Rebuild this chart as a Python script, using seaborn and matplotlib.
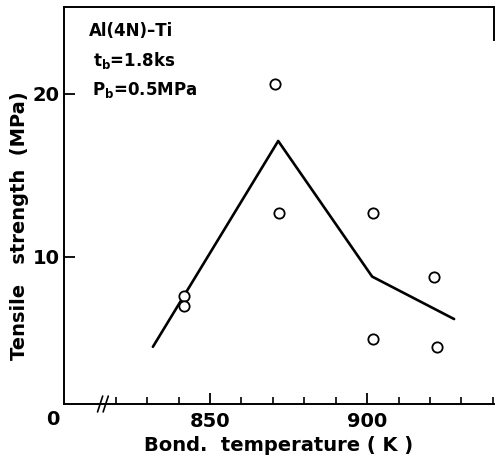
import matplotlib
matplotlib.use("Agg")
import matplotlib.pyplot as plt
import seaborn as sns
import pandas as pd
from matplotlib.ticker import FixedLocator

# data
pt_temp = [841.7, 841.7, 870.7, 872.0, 901.9, 901.9, 921.3, 922.3]
pt_strength = [7.6, 7.0, 20.6, 12.7, 12.7, 5.0, 8.8, 4.5]
line_temp = [831.8, 871.7, 901.6, 927.7]
line_strength = [4.5, 17.1, 8.8, 6.2]
x_ticks = [850, 900]
y_ticks = [10, 20]

sns.set_style("white")
plt.rcParams['font.family'] = ['DejaVu Sans']
plt.rcParams['text.color'] = 'black'
plt.rcParams['axes.labelcolor'] = 'black'
plt.rcParams['xtick.color'] = 'black'
plt.rcParams['ytick.color'] = 'black'

fig = plt.figure(figsize=(4.96, 4.65), dpi=100)
ax = fig.add_axes([64/496, 61/465, 430/496, 397/465])

pts = pd.DataFrame({"T": pt_temp, "S": pt_strength})
ln = pd.DataFrame({"T": line_temp, "S": line_strength})

sns.lineplot(data=ln, x="T", y="S", ax=ax, color="black", linewidth=1.9, sort=False)
sns.scatterplot(data=pts, x="T", y="S", ax=ax, marker="o", s=55,
                facecolor="white", edgecolor="black", linewidth=1.3, zorder=3)

ax.set_xlim(803.5, 940.4)
ax.set_ylim(1.0, 25.3)

for s in ax.spines.values():
    s.set_color("black")
    s.set_linewidth(1.4)
ax.spines["right"].set_bounds(23.3, 25.3)

ax.xaxis.set_major_locator(FixedLocator(x_ticks))
ax.xaxis.set_minor_locator(FixedLocator([v for v in range(820, 941, 10) if v not in x_ticks]))
ax.yaxis.set_major_locator(FixedLocator(y_ticks))
ax.tick_params(axis="x", which="major", direction="in", length=8, width=1.3,
               labelsize=14, pad=6, bottom=True)
ax.tick_params(axis="x", which="minor", direction="in", length=5, width=1.2, bottom=True)
ax.tick_params(axis="y", which="major", direction="in", length=8, width=1.3,
               labelsize=14, pad=3, left=True)
for lab in ax.get_xticklabels() + ax.get_yticklabels():
    lab.set_fontweight("bold")

ax.set_xlabel("Bond.  temperature ( K )", fontsize=14, fontweight="bold", labelpad=3)
ax.set_ylabel("Tensile   strength  (MPa)", fontsize=14, fontweight="bold")
ax.yaxis.label.set_verticalalignment("center")
ax.yaxis.set_label_coords(-0.104, 0.45)

# origin label and axis break
ax.text(-0.026, -0.04, "0", transform=ax.transAxes, ha="center", va="center",
        fontsize=14, fontweight="bold")
for dx in (0.0, 0.013):
    ax.plot([0.078 + dx, 0.090 + dx], [-0.02, 0.02], transform=ax.transAxes,
            color="black", lw=1.2, clip_on=False)

ax.text(0.058, 0.94, "Al(4N)–Ti", transform=ax.transAxes, fontsize=12,
        fontweight="bold", va="center")
ax.text(0.067, 0.865, r"t$_\mathbf{b}$=1.8ks", transform=ax.transAxes, fontsize=12,
        fontweight="bold", va="center")
ax.text(0.065, 0.79, r"P$_\mathbf{b}$=0.5MPa", transform=ax.transAxes, fontsize=12,
        fontweight="bold", va="center")

fig.savefig("out.png", dpi=100)
